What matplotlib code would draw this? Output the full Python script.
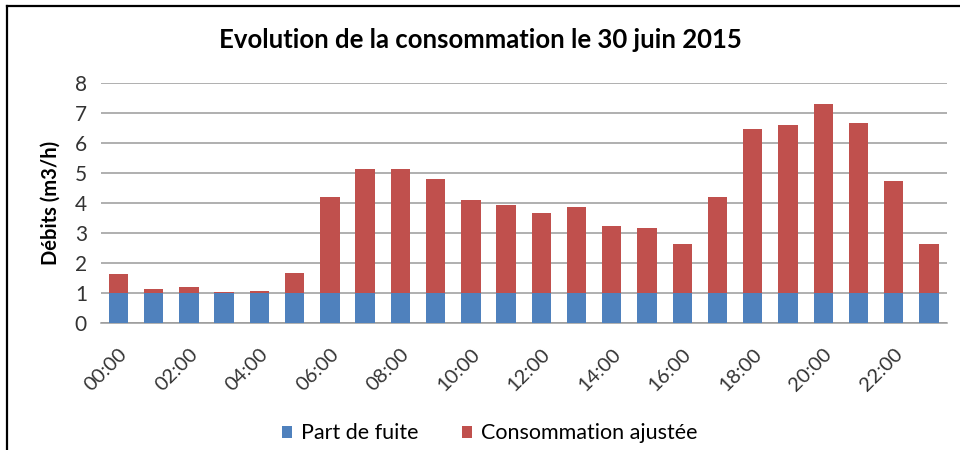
import matplotlib.pyplot as plt
import numpy as np

plt.rcParams['font.family'] = ['Lato', 'DejaVu Sans']

hours = [f'{h:02d}:00' for h in range(24)]
leak = [1.0] * 24   # part de fuite
adjusted = [0.64, 0.13, 0.21, 0.02, 0.06, 0.66, 3.19, 4.14, 4.14, 3.80, 3.11, 2.92,
            2.67, 2.88, 2.24, 2.16, 1.62, 3.19, 5.45, 5.58, 6.29, 5.67, 3.73, 1.63]

blue = '#4f81bd'
red = '#c0504d'

fig = plt.figure(figsize=(9.6, 4.5), dpi=100)
ax = fig.add_axes([0.105, 0.282, 0.881, 0.534])

x = np.arange(len(hours))
ax.bar(x, leak, width=0.55, color=blue, label='Part de fuite', zorder=3)
ax.bar(x, adjusted, width=0.55, bottom=leak, color=red, label='Consommation ajustée', zorder=3)

ax.set_xlim(-0.5, len(hours) - 0.5)
ax.set_ylim(0, 8)
ax.set_yticks(range(9))
ax.yaxis.grid(True, color='#9a9a9a', linewidth=1.1, zorder=0)
ax.set_axisbelow(True)
for s in ['top', 'right', 'left']:
    ax.spines[s].set_visible(False)
ax.spines['bottom'].set_color('#9a9a9a')
ax.spines['bottom'].set_linewidth(1.1)
ax.tick_params(length=0, labelsize=15, colors='#333333', pad=10)

ax.set_xticks(x[::2])
ax.set_xticklabels(hours[::2], rotation=45, ha='right', rotation_mode='anchor', fontsize=14.5)
ax.tick_params(axis='x', pad=16)

ax.set_ylabel('Débits (m3/h)', fontsize=14.5, fontweight='bold', labelpad=10)
fig.text(0.5, 0.91, 'Evolution de la consommation le 30 juin 2015',
         ha='center', va='center', fontsize=18.5, fontweight='bold')

fig.legend(loc='center', bbox_to_anchor=(0.51, 0.037), ncol=2, frameon=False,
           fontsize=15.5, handlelength=0.5, handleheight=0.5, handletextpad=0.4,
           columnspacing=2.0)

# outer frame (top and left edges)
fig.add_artist(plt.Line2D([7/960, 1], [1 - 6/450, 1 - 6/450], color='black', linewidth=1.6))
fig.add_artist(plt.Line2D([7/960, 7/960], [0, 1 - 6/450], color='black', linewidth=1.6))

fig.savefig('out.png', dpi=100)
